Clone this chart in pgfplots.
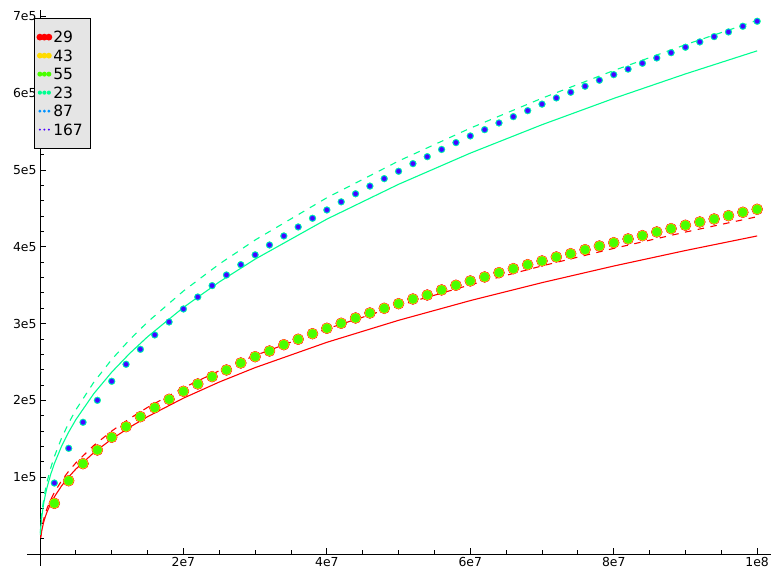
\documentclass[border=0pt]{standalone}
\usepackage{pgfplots}
\pgfplotsset{compat=1.18}
\usepackage{pgfplotstable}
\usepackage{fontspec}
\setmainfont{DejaVu Sans}

\definecolor{c29}{HTML}{FF0000}
\definecolor{c43}{HTML}{FFDB00}
\definecolor{c55}{HTML}{49FF00}
\definecolor{c23}{HTML}{00FF92}
\definecolor{c87}{HTML}{0092FF}
\definecolor{c167}{HTML}{4900FF}
\definecolor{leggray}{HTML}{E5E5E5}

% x, lower group (29/43/55), upper group (23/87/167)
\pgfplotstableread{
x lo hi
2000000 66000 92400
4000000 95400 137600
6000000 117600 171500
8000000 135400 200100
10000000 152000 224900
12000000 165800 247000
14000000 178800 266500
16000000 190500 285200
18000000 201400 302100
20000000 211800 319000
22000000 221400 334600
24000000 230900 349400
26000000 239600 363300
28000000 248700 376700
30000000 256900 389500
32000000 264300 402300
34000000 272500 414100
36000000 279600 425800
38000000 286800 437100
40000000 293900 447900
42000000 300400 458500
44000000 307300 469000
46000000 313800 479000
48000000 319900 488700
50000000 325900 498300
52000000 332000 508200
54000000 337200 517300
56000000 343800 526700
58000000 349900 535600
60000000 355500 544300
62000000 360700 552500
64000000 366300 561200
66000000 371500 569400
68000000 376700 577200
70000000 381500 585700
72000000 386700 593800
74000000 391000 601200
76000000 396200 609000
78000000 401000 616800
80000000 405300 624100
82000000 410200 631300
84000000 414500 638900
86000000 419300 645800
88000000 423600 652700
90000000 428000 659800
92000000 432300 666700
94000000 436200 673600
96000000 440500 679700
98000000 444900 687100
100000000 448800 693600
}\pts

% red solid, red dashed, green solid, green dashed
\pgfplotstableread{
x s d cs cd
50000 15765 17460 24940 27620
100000 20950 23050 33140 36470
250000 30690 33520 48550 53030
500000 41100 44680 65020 70680
750000 48830 52940 77250 83750
1000000 55210 59750 87340 94520
1500000 65690 70930 103930 112210
2000000 74350 80150 117620 126800
3000000 88590 95300 140150 150760
4000000 100360 107810 158770 170550
5000000 110580 118660 174940 187720
7500000 131960 141330 208760 223590
10000000 149660 160090 236760 253260
12500000 165040 176370 261090 279020
15000000 178790 190920 282850 302040
20000000 202920 216440 321020 342410
25000000 223900 238610 354210 377480
30000000 242670 258430 383900 408830
40000000 275610 293200 436010 463830
50000000 304260 323420 481340 511650
60000000 329910 350460 521920 554420
70000000 353300 375100 558920 593410
80000000 374930 397890 593140 629460
90000000 395110 419140 625060 663080
100000000 414100 439130 655110 694710
}\curves

\pgfplotsset{
  legdots/.style={legend image code/.code={
    \fill[draw=none] (2pt,0pt) circle (#1);
    \fill[draw=none] (6.5pt,0pt) circle (#1);
    \fill[draw=none] (11pt,0pt) circle (#1);
    \path[draw=none, fill=none] (-1pt,-3pt) rectangle (13.5pt,3pt);}},
}

\begin{document}
\begin{tikzpicture}
\begin{axis}[
    at={(40pt,30pt)}, anchor=origin,
    scale only axis, width=743.7pt, height=556pt,
    xmin=-1.8e6, xmax=1.019e8,
    ymin=-15600, ymax=708300,
    axis lines=middle,
    axis line style={-, black, line width=0.8pt},
    scaled ticks=false,
    xtick={2e7,4e7,6e7,8e7,1e8},
    xticklabels={2e7,4e7,6e7,8e7,1e8},
    minor xtick={5e6,1e7,1.5e7,2.5e7,3e7,3.5e7,4.5e7,5e7,5.5e7,6.5e7,7e7,7.5e7,8.5e7,9e7,9.5e7},
    ytick={1e5,2e5,3e5,4e5,5e5,6e5,7e5},
    yticklabels={1e5,2e5,3e5,4e5,5e5,6e5,7e5},
    minor ytick={2e4,4e4,6e4,8e4,1.2e5,1.4e5,1.6e5,1.8e5,2.2e5,2.4e5,2.6e5,2.8e5,3.2e5,3.4e5,3.6e5,3.8e5,4.2e5,4.4e5,4.6e5,4.8e5,5.2e5,5.4e5,5.6e5,5.8e5,6.2e5,6.4e5,6.6e5,6.8e5},
    tick align=inside,
    major tick length=6pt, minor tick length=4pt,
    tick style={black, line width=0.8pt},
    ticklabel style={font=\fontsize{12.4}{14}\selectfont},
    legend cell align=left,
    legend style={at={(0.0094,0.9856)}, anchor=north west,
        fill=leggray, draw=black, line width=0.8pt,
        font=\fontsize{15.5}{18}\selectfont,
        inner xsep=2pt, inner ysep=13pt, row sep=7pt,
        nodes={inner ysep=0pt, inner xsep=1pt, text height=11.5pt, text depth=0pt}},
]
\addplot[only marks, mark=*, mark size=5.5pt, color=c29, legdots=3.4pt] table[x=x, y=lo] {\pts};
\addlegendentry{\makebox[34pt][l]{29}}
\addplot[only marks, mark=*, mark size=5pt, color=c43, legdots=2.9pt] table[x=x, y=lo] {\pts};
\addlegendentry{43}
\addplot[only marks, mark=*, mark size=4.4pt, color=c55, legdots=2.5pt] table[x=x, y=lo] {\pts};
\addlegendentry{55}
\addplot[only marks, mark=*, mark size=3.4pt, color=c23, legdots=2.1pt] table[x=x, y=hi] {\pts};
\addlegendentry{23}
\addplot[only marks, mark=*, mark size=2.7pt, color=c87, legdots=1.6pt] table[x=x, y=hi] {\pts};
\addlegendentry{87}
\addplot[only marks, mark=*, mark size=2pt, color=c167, legdots=1.1pt] table[x=x, y=hi] {\pts};
\addlegendentry{167}

\addplot[forget plot, no marks, c29, line width=1.1pt, skip coords between index={0}{1}] table[x=x, y=s] {\curves};
\addplot[forget plot, no marks, c29, line width=1.1pt, dash pattern=on 6.5pt off 6.5pt, skip coords between index={0}{1}] table[x=x, y=d] {\curves};
\addplot[forget plot, no marks, c23, line width=1.1pt] table[x=x, y=cs] {\curves};
\addplot[forget plot, no marks, c23, line width=1.1pt, dash pattern=on 6.5pt off 6.5pt] table[x=x, y=cd] {\curves};
\end{axis}
\path[use as bounding box, draw=none, fill=none] (0,0) rectangle (781pt,584pt);
\end{tikzpicture}
\end{document}
